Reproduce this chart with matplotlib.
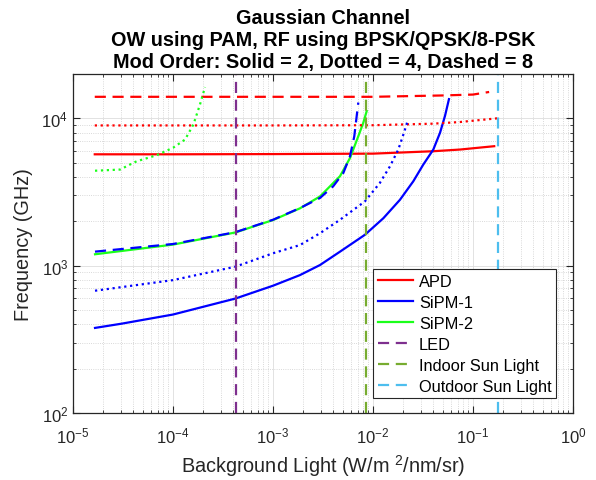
import numpy as np
import matplotlib
matplotlib.use("Agg")
import matplotlib.pyplot as plt

plt.rcParams['font.family'] = ['Liberation Sans', 'DejaVu Sans']
plt.rcParams['mathtext.fontset'] = 'custom'
plt.rcParams['mathtext.rm'] = 'Liberation Sans'

# APD (flat-ish), order 2 / 4 / 8
apd_x = [1.65e-5, 1e-4, 1e-3, 1e-2, 0.04, 0.074, 0.163]
apd_2 = [5700, 5700, 5720, 5760, 5980, 6140, 6470]
apd_x4 = [1.65e-5, 1e-4, 1e-3, 1e-2, 0.04, 0.074, 0.174]
apd_4 = [8950, 8950, 8950, 8980, 9200, 9440, 10000]
apd_x8 = [1.65e-5, 1e-4, 1e-3, 1e-2, 0.05, 0.1, 0.145]
apd_8 = [14000, 14000, 14000, 14000, 14300, 14500, 15100]

# SiPM-1
sipm1_x2 = [1.66e-5, 3.07e-5, 1e-4, 4.2e-4, 1e-3, 1.86e-3, 2.95e-3, 4.68e-3, 8.3e-3, 0.0127,
            0.0186, 0.0253, 0.0318, 0.0401, 0.0468, 0.0525, 0.0575]
sipm1_2 = [378, 404, 466, 598, 731, 863, 1010, 1245, 1620, 2100,
           2800, 3740, 4850, 6140, 7980, 10400, 13500]
sipm1_x4 = [1.66e-5, 1e-4, 4.2e-4, 1e-3, 1.86e-3, 2.95e-3, 4.68e-3, 8.3e-3, 0.0117,
            0.0148, 0.0179, 0.0204, 0.022]
sipm1_4 = [676, 798, 984, 1214, 1380, 1660, 2050, 2730, 3640,
           4730, 6140, 7980, 9440]
sipm1_x8 = [1.66e-5, 1e-4, 4.2e-4, 1e-3, 1.86e-3, 2.95e-3, 4.0e-3, 5.05e-3, 5.89e-3,
            6.5e-3, 7.13e-3]
sipm1_8 = [1245, 1403, 1687, 2050, 2460, 2880, 3460, 4260, 5530,
           7560, 12800]

# SiPM-2
sipm2_x2 = [1.66e-5, 1e-4, 4.2e-4, 1e-3, 1.86e-3, 2.95e-3, 4.68e-3, 5.89e-3, 7.13e-3,
            8.0e-3, 8.65e-3]
sipm2_2 = [1195, 1390, 1680, 2040, 2450, 2950, 4050, 5380, 7560,
           9340, 11200]
sipm2_x4 = [1.66e-5, 2.95e-5, 3.7e-5, 4.33e-5, 6.87e-5, 1e-4, 1.32e-4, 1.6e-4, 1.86e-4, 2.09e-4]
sipm2_4 = [4410, 4490, 4850, 5110, 5620, 6310, 7180, 9080, 12400, 16300]

# reference background levels
led_x = 4.24e-4
indoor_x = 8.45e-3
outdoor_x = 0.178

fig = plt.figure(figsize=(5.96, 4.81), dpi=100)
ax = fig.add_axes([0.1225, 0.1393, 0.8389, 0.7048])

lw = 1.6
dash = (5, 3)
green = '#1aff1a'
ax.plot(apd_x, apd_2, color='red', lw=lw, label='APD')
ax.plot(sipm1_x2, sipm1_2, color='blue', lw=lw, label='SiPM-1')
ax.plot(sipm2_x2, sipm2_2, color=green, lw=lw, label='SiPM-2')
ax.plot(apd_x4, apd_4, color='red', lw=lw, ls=':')
ax.plot(apd_x8, apd_8, color='red', lw=lw, dashes=dash)
ax.plot(sipm1_x4, sipm1_4, color='blue', lw=lw, ls=':')
ax.plot(sipm1_x8, sipm1_8, color='blue', lw=lw, dashes=dash)
ax.plot(sipm2_x4, sipm2_4, color=green, lw=lw, ls=':')

ax.axvline(led_x, color='#7E2F8E', lw=lw, dashes=dash, label='LED')
ax.axvline(indoor_x, color='#77AC30', lw=lw, dashes=dash, label='Indoor Sun Light')
ax.axvline(outdoor_x, color='#4DBEEE', lw=lw, dashes=dash, label='Outdoor Sun Light')

ax.set_xscale('log')
ax.set_yscale('log')
ax.set_xlim(1e-5, 1)
ax.set_ylim(1e2, 2e4)
ax.set_xticks([1e-5, 1e-4, 1e-3, 1e-2, 1e-1, 1])

ax.grid(True, which='major', color='#dddddd', lw=0.6, ls='-')
ax.grid(True, which='minor', color='#cccccc', lw=0.6, ls=':')
ax.tick_params(which='both', direction='in', top=True, right=True, labelsize=12, colors='#262626')
ax.tick_params(axis='x', which='major', pad=9)
ax.tick_params(which='major', length=5)
ax.tick_params(which='minor', length=2.5)
for s in ax.spines.values():
    s.set_color('#262626')
    s.set_linewidth(0.9)
ax.set_axisbelow(True)

ax.set_xlabel('Background Light (W/m $^{2}$/nm/sr)', fontsize=14.3, color='#262626', labelpad=5)
ax.set_ylabel('Frequency (GHz)', fontsize=14.3, color='#262626', labelpad=6)
ax.set_title('Gaussian Channel\nOW using PAM, RF using BPSK/QPSK/8-PSK\nMod Order: Solid = 2, Dotted = 4, Dashed = 8',
             fontsize=14.3, fontweight='bold', linespacing=1.2, pad=5)

leg = ax.legend(loc='lower right', bbox_to_anchor=(0.967, 0.043), borderaxespad=0,
                fontsize=11.8, handlelength=2.15, handletextpad=0.35, borderpad=0.3,
                fancybox=False, framealpha=1, edgecolor='#262626', labelspacing=0.36)
leg.get_frame().set_linewidth(0.8)

fig.savefig('out.png', dpi=100)
